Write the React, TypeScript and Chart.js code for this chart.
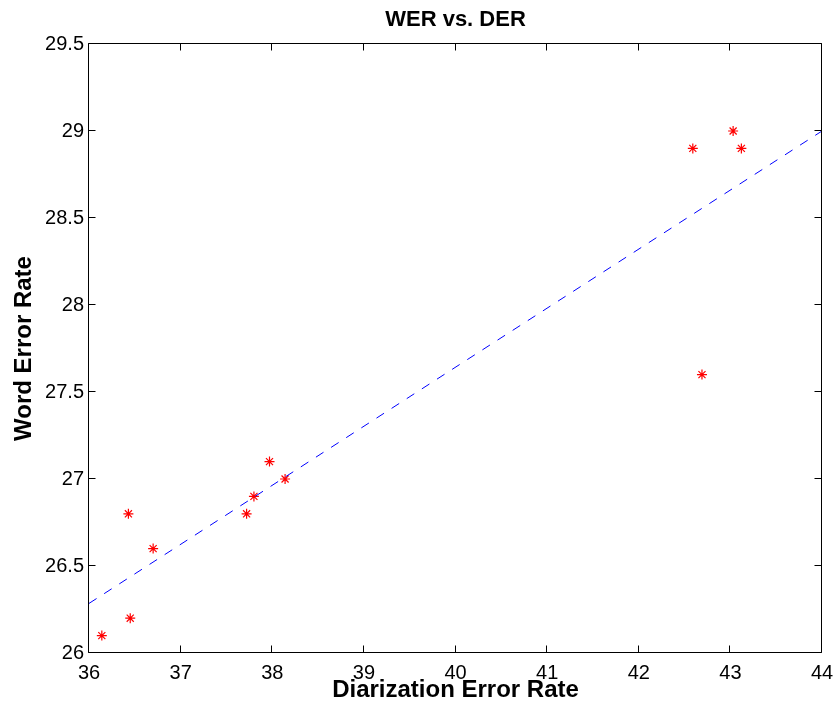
import React, { useEffect, useRef } from "react";
import { Chart, registerables } from "chart.js";

Chart.register(...registerables);

const titleText = "WER vs. DER";
const xAxisTitle = "Diarization Error Rate";
const yAxisTitle = "Word Error Rate";

const derValues = [36.14, 36.45, 36.43, 36.7, 37.72, 37.8, 37.97, 38.14, 42.59, 43.03, 43.12, 42.69];
const werValues = [26.1, 26.2, 26.8, 26.6, 26.8, 26.9, 27.1, 27.0, 28.9, 29.0, 28.9, 27.6];

const fitX = [36, 44];
const fitY = [26.285, 29.0];

const xMin = 36;
const xMax = 44;
const xStep = 1;
const yMin = 26;
const yMax = 29.5;
const yStep = 0.5;

const FONT = "'Liberation Sans', Arial, Helvetica, sans-serif";

const boxPlugin = {
  id: "matlabBox",
  afterDraw(chart: any) {
    const { ctx, chartArea } = chart;
    const xs = chart.scales.x;
    const ys = chart.scales.y;
    const l = Math.round(chartArea.left) - 0.5;
    const r = Math.round(chartArea.right) - 0.5;
    const t = Math.round(chartArea.top) - 0.5;
    const b = Math.round(chartArea.bottom) - 0.5;
    const len = 7;
    ctx.save();
    ctx.strokeStyle = "#000";
    ctx.lineWidth = 1;
    ctx.beginPath();
    ctx.rect(l, t, r - l, b - t);
    ctx.stroke();
    ctx.beginPath();
    xs.ticks.forEach((tk: any) => {
      const px = Math.round(xs.getPixelForValue(tk.value)) - 0.5;
      ctx.moveTo(px, b);
      ctx.lineTo(px, b - len);
      ctx.moveTo(px, t);
      ctx.lineTo(px, t + len);
    });
    ys.ticks.forEach((tk: any) => {
      const py = Math.round(ys.getPixelForValue(tk.value)) - 0.5;
      ctx.moveTo(l, py);
      ctx.lineTo(l + len, py);
      ctx.moveTo(r, py);
      ctx.lineTo(r - len, py);
    });
    ctx.stroke();
    // title centred over the plot area
    ctx.fillStyle = "#000";
    ctx.font = "bold 22px " + FONT;
    ctx.textAlign = "center";
    ctx.textBaseline = "middle";
    ctx.fillText(titleText, (chartArea.left + chartArea.right) / 2, 19.5);
    ctx.restore();
  },
};

export default function App() {
  const ref = useRef<HTMLCanvasElement | null>(null);

  useEffect(() => {
    if (!ref.current) return;
    const chart = new Chart(ref.current, {
      type: "scatter",
      data: {
        datasets: [
          {
            type: "line",
            data: fitX.map((x, i) => ({ x, y: fitY[i] })),
            borderColor: "#0000ff",
            borderWidth: 1,
            borderDash: [9, 9],
            pointRadius: 0,
            fill: false,
            tension: 0,
          } as any,
          {
            type: "scatter",
            data: derValues.map((x, i) => ({ x, y: werValues[i] })),
            pointStyle: "star",
            pointRadius: 5,
            borderColor: "#ff0000",
            backgroundColor: "#ff0000",
            borderWidth: 1.2,
          } as any,
        ],
      },
      options: {
        responsive: false,
        animation: false,
        layout: { padding: { left: 0, right: 14, top: 44, bottom: 0 } },
        plugins: {
          legend: { display: false },
          tooltip: { enabled: false },
          title: { display: false },
        },
        scales: {
          x: {
            type: "linear",
            min: xMin,
            max: xMax,
            grid: { display: false, drawTicks: false },
            border: { display: false },
            ticks: {
              stepSize: xStep,
              color: "#000",
              padding: 8,
              font: { family: FONT, size: 20 },
            },
            title: {
              display: true,
              text: xAxisTitle,
              color: "#000",
              font: { family: FONT, size: 24, weight: "bold" },
              padding: { top: 0, bottom: 0 },
            },
            afterFit(scale: any) {
              scale.height = 52;
              scale.paddingLeft = 0;
              scale.paddingRight = 0;
            },
          },
          y: {
            type: "linear",
            min: yMin,
            max: yMax,
            grid: { display: false, drawTicks: false },
            border: { display: false },
            ticks: {
              stepSize: yStep,
              color: "#000",
              padding: 5,
              font: { family: FONT, size: 20 },
              callback: (v: any) => String(Number(v)),
            },
            title: {
              display: true,
              text: yAxisTitle,
              color: "#000",
              font: { family: FONT, size: 24, weight: "bold" },
              padding: { top: 10, bottom: 0 },
            },
            afterFit(scale: any) {
              scale.width = 89;
              scale.paddingTop = 0;
              scale.paddingBottom = 0;
            },
          },
        },
      },
      plugins: [boxPlugin],
    });
    return () => chart.destroy();
  }, []);

  return (
    <div style={{ position: "absolute", left: 0, top: 0, width: 836, height: 705, background: "#fff" }}>
      <canvas ref={ref} width={836} height={705} style={{ display: "block" }} />
    </div>
  );
}
